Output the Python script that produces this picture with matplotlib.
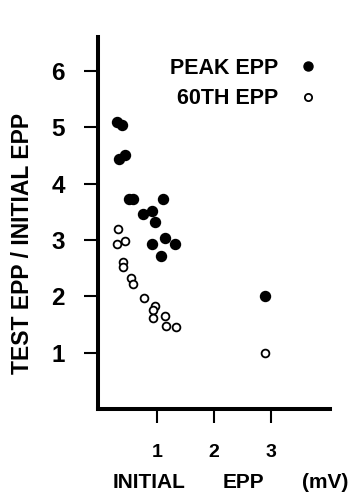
import matplotlib
matplotlib.use("Agg")
import matplotlib.pyplot as plt
from matplotlib.lines import Line2D

plt.rcParams["font.family"] = ["Liberation Sans", "DejaVu Sans"]

# peak EPP (filled)
peak_x = [0.28, 0.38, 0.32, 0.42, 0.50, 0.57, 1.10, 0.75, 0.91, 0.96, 0.91, 1.13, 1.31, 1.07, 2.90]
peak_y = [5.10, 5.03, 4.44, 4.51, 3.72, 3.72, 3.72, 3.46, 3.52, 3.32, 2.92, 3.03, 2.93, 2.71, 2.00]

# 60th EPP (open)
sixty_x = [0.31, 0.28, 0.42, 0.40, 0.40, 0.54, 0.56, 0.77, 0.96, 0.93, 0.92, 1.13, 1.16, 1.32, 2.90]
sixty_y = [3.20, 2.93, 2.98, 2.61, 2.52, 2.32, 2.21, 1.97, 1.83, 1.76, 1.61, 1.65, 1.48, 1.45, 1.00]

x_ticks = [1, 2, 3]
y_ticks = [1, 2, 3, 4, 5, 6]

fig = plt.figure(figsize=(3.57, 4.93), dpi=100)
ax = fig.add_axes([98 / 357, 1 - 409 / 493, 232 / 357, 372 / 493])

ax.plot(peak_x, peak_y, "o", color="black", markersize=7.2, linestyle="none")
ax.plot(sixty_x, sixty_y, "o", markerfacecolor="white", markeredgecolor="black",
        markeredgewidth=1.3, markersize=5.6, linestyle="none")

ax.set_xlim(-0.05, 4.05)
ax.set_ylim(0, 6.6)
ax.set_xticks(x_ticks)
ax.set_yticks(y_ticks)
ax.set_xticklabels([str(t) for t in x_ticks], fontsize=14, fontweight="bold")
ax.set_yticklabels([str(t) for t in y_ticks], fontsize=17.5, fontweight="bold")

for side in ["top", "right"]:
    ax.spines[side].set_visible(False)
for side in ["left", "bottom"]:
    ax.spines[side].set_linewidth(2.9)

ax.tick_params(axis="y", direction="out", length=10, width=1.5, pad=14)
ax.tick_params(axis="x", direction="out", length=10, width=1.5, pad=15)

ax.set_ylabel("TEST EPP / INITIAL EPP", fontsize=16.5, fontweight="bold")
ax.yaxis.set_label_coords(-0.275, 0.445)

fig.text(113 / 357, 1 - 483 / 493, "INITIAL", fontsize=15, fontweight="bold", va="center", ha="left")
fig.text(223 / 357, 1 - 483 / 493, "EPP", fontsize=15, fontweight="bold", va="center", ha="left")
fig.text(302 / 357, 1 - 483 / 493, "(mV)", fontsize=15, fontweight="bold", va="center", ha="left")

handles = [
    Line2D([], [], marker="o", color="black", linestyle="none", markersize=6.5),
    Line2D([], [], marker="o", markerfacecolor="white", markeredgecolor="black",
           markeredgewidth=1.3, linestyle="none", markersize=5.2),
]
ax.legend(handles, ["PEAK EPP", "60TH EPP"], loc="upper left",
          bbox_to_anchor=(170 / 357, 1 - 58 / 493), bbox_transform=fig.transFigure,
          frameon=False, markerfirst=False, handlelength=1,
          handletextpad=0.9, labelspacing=0.42, borderpad=0, borderaxespad=0,
          prop={"weight": "bold", "size": 15.5})

fig.savefig("out.png", dpi=100)
